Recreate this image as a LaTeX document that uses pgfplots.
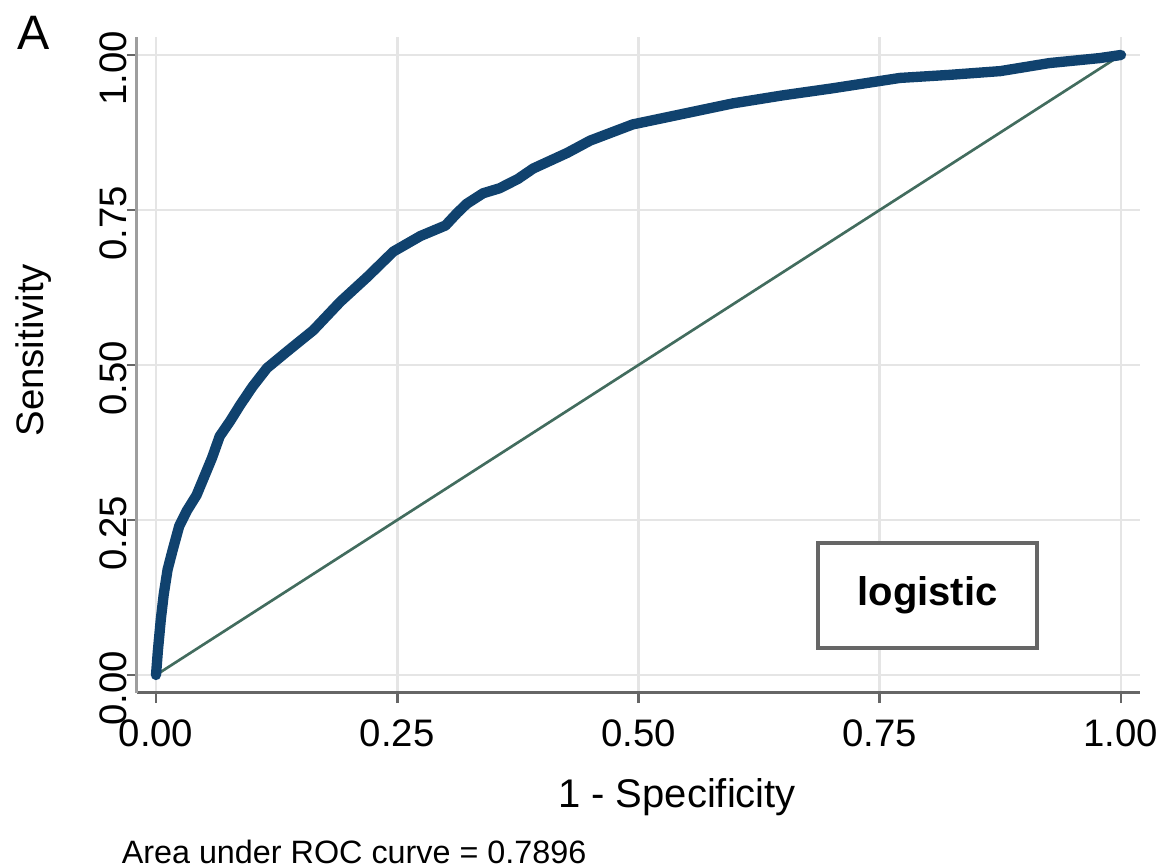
\documentclass[border=0pt]{standalone}
\usepackage{fontspec}
\setmainfont{Liberation Sans}
\usepackage{pgfplots}
\pgfplotsset{compat=1.18}
\definecolor{navy}{RGB}{16,66,110}
\definecolor{diag}{RGB}{66,108,94}
\definecolor{gridc}{RGB}{229,229,229}
\begin{document}
\begin{tikzpicture}
\useasboundingbox (-41.1pt,-52.2pt) rectangle (310.8pt,207.9pt);
\begin{axis}[
  scale only axis, width=300.9pt, height=196.8pt,
  xmin=-0.0197, xmax=1.0197, ymin=-0.029, ymax=1.029,
  axis x line*=bottom, axis y line*=left,
  x axis line style={-, draw=black!60, line width=0.9pt},
  y axis line style={-, draw=black!38, line width=0.9pt},
  xtick={0,0.25,0.5,0.75,1}, ytick={0,0.25,0.5,0.75,1},
  grid=major, major grid style={draw=gridc, line width=0.8pt},
  tick align=outside, major tick length=3pt,
  tick style={draw=black!60, line width=0.8pt},
  xticklabel style={font=\fontsize{11.5}{12}\selectfont, anchor=base, yshift=-13pt},
  yticklabel style={font=\fontsize{11.5}{12}\selectfont, rotate=90, anchor=base, xshift=-4pt},
  /pgf/number format/.cd, fixed, fixed zerofill, precision=2, assume math mode=true,
  /pgfplots/.cd,
  clip=false,
]
\addplot[diag, line width=0.8pt] coordinates {(0,0) (1,1)};
\addplot[navy, line width=3.1pt, line join=round, line cap=round] table {
x y
0 0
0.002 0.04
0.005 0.09
0.008 0.13
0.012 0.17
0.017 0.20
0.024 0.24
0.032 0.265
0.042 0.29
0.050 0.32
0.058 0.35
0.066 0.385
0.077 0.41
0.087 0.435
0.100 0.465
0.115 0.495
0.136 0.522
0.163 0.556
0.191 0.602
0.219 0.642
0.246 0.683
0.274 0.708
0.300 0.725
0.312 0.745
0.322 0.760
0.339 0.777
0.356 0.785
0.375 0.800
0.391 0.817
0.426 0.842
0.450 0.862
0.494 0.888
0.546 0.905
0.598 0.922
0.650 0.935
0.700 0.946
0.771 0.963
0.823 0.968
0.875 0.974
0.926 0.987
0.978 0.995
1 1
};
\node[draw=black!60, line width=1pt, fill=white, minimum width=65.7pt, minimum height=31.5pt,
  font=\bfseries\fontsize{12}{14}\selectfont] at (axis cs:0.7995,0.1285) {logistic};
\node[font=\fontsize{12}{14}\selectfont, yshift=-31.2pt] at (axis cs:0.54,-0.029) {1 - Specificity};
\node[font=\fontsize{11.5}{14}\selectfont, rotate=90, yshift=31pt] at (axis cs:-0.0197,0.524) {Sensitivity};
\node[font=\fontsize{9.7}{11}\selectfont, anchor=west, xshift=-8.1pt, yshift=-47.7pt] at (axis cs:-0.0197,-0.029) {Area under ROC curve = 0.7896};
\node[font=\fontsize{14.5}{16}\selectfont, xshift=-30.9pt, yshift=1.2pt] at (axis cs:-0.0197,1.029) {A};
\end{axis}
\end{tikzpicture}
\end{document}
